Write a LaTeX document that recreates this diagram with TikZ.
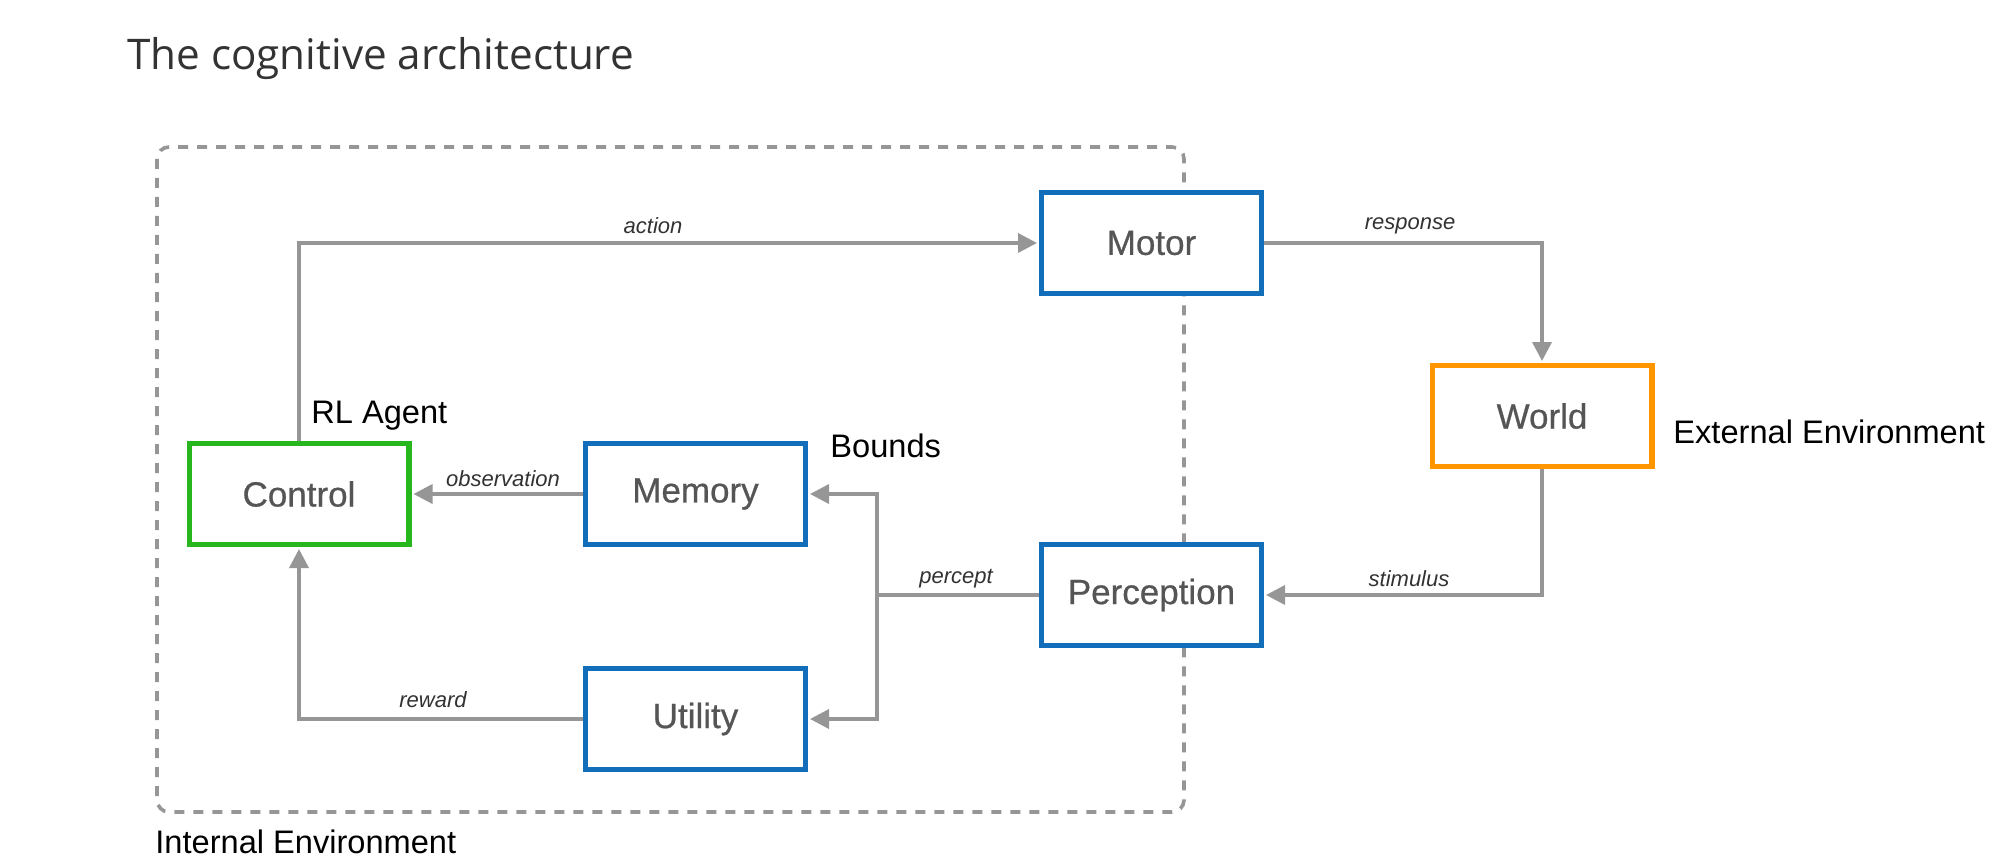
\documentclass[tikz,border=0pt]{standalone}
\usepackage{fontspec}
\setmainfont{Liberation Sans}
\newfontfamily\titlefont{Open Sans}
\newfontfamily\boxfont[FakeBold=0.6]{Liberation Sans}
\usetikzlibrary{arrows.meta}
\definecolor{boxblue}{RGB}{18,110,186}
\definecolor{boxgreen}{RGB}{40,182,30}
\definecolor{boxorange}{RGB}{255,150,0}
\definecolor{linegray}{RGB}{150,150,150}
\definecolor{dashgray}{RGB}{150,150,150}
\definecolor{boxtext}{RGB}{85,85,85}
\definecolor{edgetext}{RGB}{50,50,50}
\definecolor{titlecol}{RGB}{51,51,51}
\tikzset{
  modbox/.style={draw=boxblue, line width=2.6pt, fill=white, minimum width=109.9pt,
    minimum height=50.4pt, inner sep=0pt, text=boxtext, font=\boxfont\fontsize{17.5}{20}\selectfont},
  flow/.style={draw=linegray, line width=1.8pt,
    -{Triangle[length=9.5pt,width=9.5pt]}, shorten >=1pt},
  plainflow/.style={draw=linegray, line width=1.8pt},
  edgelabel/.style={text=edgetext, inner sep=0pt, font=\fontsize{11}{13}\selectfont\itshape},
  biglabel/.style={text=black, inner sep=0pt, anchor=base west, font=\fontsize{16.3}{19}\selectfont},
}
\begin{document}
\begin{tikzpicture}[x=0.5pt,y=-0.5pt]
\useasboundingbox (0,0) rectangle (1996,866);
% title
\node[anchor=base west, inner sep=0pt, text=titlecol, font=\titlefont\fontsize{21.1}{25}\selectfont] (title) at (127,70) {The cognitive architecture};
% internal environment boundary
\draw[dashgray, line width=1.8pt, dash pattern=on 5pt off 4.5pt, rounded corners=6pt] (157,147) rectangle (1184,812);
% modules
\node[modbox, draw=boxgreen] (ctrl) at (299,494) {Control};
\node[modbox] (mem) at (695.5,494) {Memory};
\node[modbox] (util) at (695.5,719) {Utility};
\node[modbox] (motor) at (1151.5,243) {Motor};
\node[modbox] (perc) at (1151.5,595) {Perception};
\node[modbox, draw=boxorange] (world) at (1542,416) {World};
\coordinate (junc) at (877,595);
% connectors
\draw[flow] (ctrl.north) |- (motor.west);
\draw[flow] (motor.east) -| (world.north);
\draw[flow] (world.south) |- (perc.east);
\draw[plainflow] (perc.west) -- (junc);
\draw[flow] (junc) |- (mem.east);
\draw[flow] (junc) |- (util.east);
\draw[flow] (mem.west) -- (ctrl.east);
\draw[flow] (util.west) -| (ctrl.south);
% edge labels
\node[edgelabel] (lact) at (653,226) {action};
\node[edgelabel] (lresp) at (1410,226) {response};
\node[edgelabel] (lstim) at (1409,579) {stimulus};
\node[edgelabel] (lperc) at (956,579) {percept};
\node[edgelabel] (lobs) at (503,479) {observation};
\node[edgelabel] (lrew) at (433,700) {reward};
% annotations
\node[biglabel] (rl) at (311,423) {RL Agent};
\node[biglabel] (bounds) at (830,457) {Bounds};
\node[biglabel] (ext) at (1673,443) {External Environment};
\node[biglabel] (int) at (155,853) {Internal Environment};
\end{tikzpicture}
\end{document}
